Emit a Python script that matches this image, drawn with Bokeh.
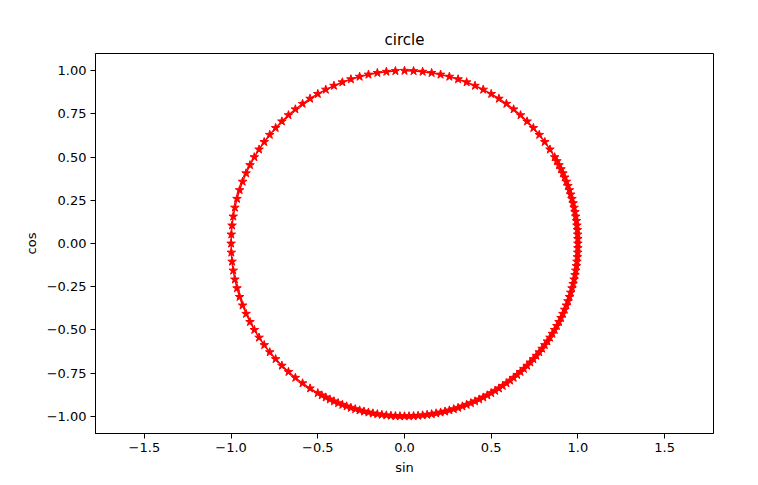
import numpy as np
from bokeh.plotting import figure
from bokeh.models import Range1d, FixedTicker
from bokeh.embed import file_html
from bokeh.resources import INLINE

angles_first_pass = [
    0, 3, 6, 9, 12, 15, 18, 21, 24, 27, 30, 33, 36, 39, 42, 45, 48, 51, 54, 57,
    60, 63, 66, 69, 72, 75, 78, 81, 84, 87, 90, 93, 96, 99, 102, 105, 108, 111, 114, 117,
    120, 123, 126, 129, 132, 135, 138, 141, 144, 147, 150, 153, 156, 159, 162, 165, 168, 171, 174, 177,
    180, 183, 186, 189, 192, 195, 198, 201, 204, 207, 210, 213, 216, 219, 222, 225, 228, 231, 234, 237,
    240, 243, 246, 249, 252, 255, 258, 261, 264, 267, 270, 273, 276, 279, 282, 285, 288, 291, 294, 297,
    300, 303, 306, 309, 312, 315, 318, 321, 324, 327, 330, 333, 336, 339, 342, 345, 348, 351, 354, 357,
]
angles_second_pass = [
    61.5, 64.5, 67.5, 70.5, 73.5, 76.5, 79.5, 82.5, 85.5, 88.5,
    91.5, 94.5, 97.5, 100.5, 103.5, 106.5, 109.5, 112.5, 115.5, 118.5,
    121.5, 124.5, 127.5, 130.5, 133.5, 136.5, 139.5, 142.5, 145.5, 148.5,
    151.5, 154.5, 157.5, 160.5, 163.5, 166.5, 169.5, 172.5, 175.5, 178.5,
    181.5, 184.5, 187.5, 190.5, 193.5, 196.5, 199.5, 202.5, 205.5, 208.5,
]

x_ticks = [-1.5, -1.0, -0.5, 0.0, 0.5, 1.0, 1.5]
y_ticks = [-1.0, -0.75, -0.5, -0.25, 0.0, 0.25, 0.5, 0.75, 1.0]

t = np.deg2rad(np.array(sorted(angles_first_pass + angles_second_pass)))
xs = np.sin(t)
ys = np.cos(t)

def fmt(v, d):
    s = f"{v:.{d}f}"
    return s.replace("-", "\u2212")

p = figure(width=750, height=477, output_backend="svg", toolbar_location=None,
           title="circle",
           x_range=Range1d(-1.782, 1.782), y_range=Range1d(-1.1, 1.1),
           min_border_left=95, min_border_right=37, min_border_top=53, min_border_bottom=42)

p.line(xs, ys, line_color="red", line_width=1.5)
p.scatter(xs, ys, marker="star", size=9, fill_color="red", line_color="red")

p.title.align = "center"
p.title.text_font = "DejaVu Sans"
p.title.text_font_size = "15px"
p.title.text_font_style = "normal"
p.title.text_color = "black"

p.grid.visible = False
p.outline_line_color = "black"
p.outline_line_alpha = 1.0
p.outline_line_width = 1

for ax in (p.xaxis[0], p.yaxis[0]):
    ax.axis_line_color = "black"
    ax.major_tick_line_color = "black"
    ax.major_tick_in = 0
    ax.major_tick_out = 5
    ax.minor_tick_line_color = None
    ax.major_label_text_font = "DejaVu Sans"
    ax.major_label_text_font_size = "13px"
    ax.major_label_text_color = "black"
    ax.axis_label_text_font = "DejaVu Sans"
    ax.axis_label_text_font_size = "13px"
    ax.axis_label_text_font_style = "normal"
    ax.axis_label_text_color = "black"

p.xaxis[0].ticker = FixedTicker(ticks=x_ticks)
p.xaxis[0].major_label_overrides = {v: fmt(v, 1) for v in x_ticks}
p.yaxis[0].ticker = FixedTicker(ticks=y_ticks)
p.yaxis[0].major_label_overrides = {v: fmt(v, 2) for v in y_ticks}
p.xaxis[0].axis_label = "sin"
p.yaxis[0].axis_label = "cos"
p.xaxis[0].major_label_standoff = 4
p.yaxis[0].major_label_standoff = 4

open("out.html", "w").write(file_html(p, INLINE))
